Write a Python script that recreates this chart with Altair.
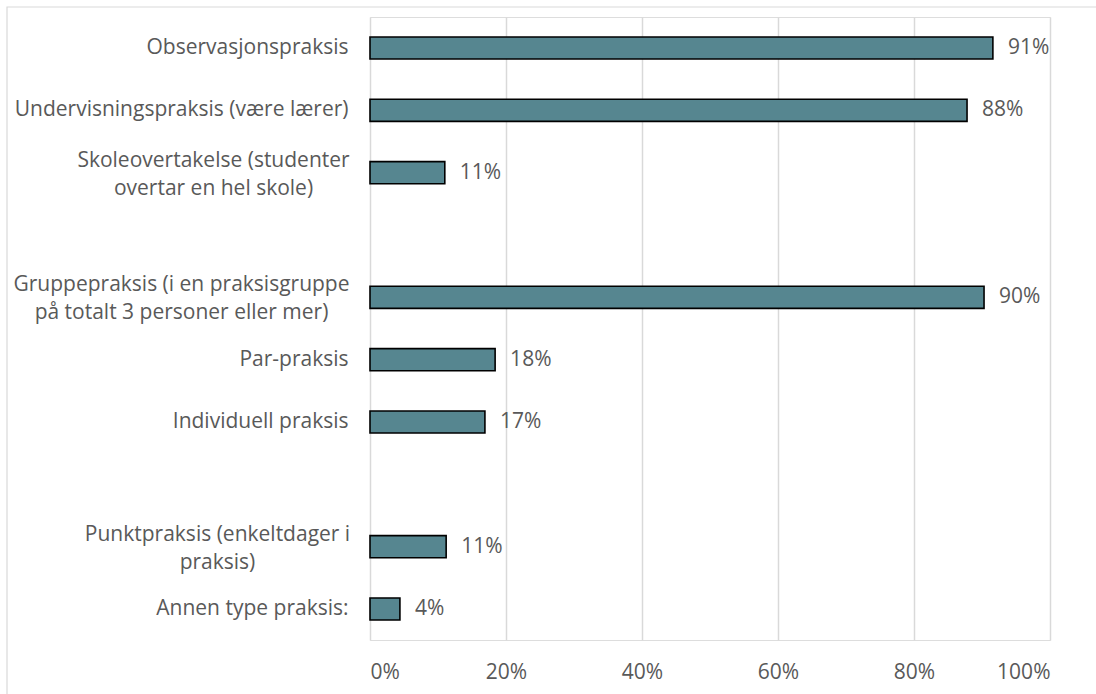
import altair as alt
import pandas as pd

categories = [
    "Observasjonspraksis",
    "Undervisningspraksis (være lærer)",
    "Skoleovertakelse (studenter|overtar en hel skole)",
    " ",
    "Gruppepraksis (i en praksisgruppe|på totalt 3 personer eller mer)",
    "Par-praksis",
    "Individuell praksis",
    "  ",
    "Punktpraksis (enkeltdager i|praksis)",
    "Annen type praksis:",
]
values = [0.916, 0.878, 0.110, None, 0.903, 0.184, 0.169, None, 0.112, 0.044]
labels = ["91%", "88%", "11%", "", "90%", "18%", "17%", "", "11%", "4%"]

df = pd.DataFrame({"cat": categories, "value": values, "label": labels})
bars_df = df.dropna()

FONT = "Open Sans"
TXT = "#595959"
FS = 21

multi = "indexof(datum.value, '|') >= 0"

y_enc = alt.Y(
    "cat:N",
    sort=categories,
    scale=alt.Scale(domain=categories, paddingInner=0.645, paddingOuter=0.32),
    axis=alt.Axis(
        title=None,
        labelExpr="split(datum.label, '|')",
        labelFont=FONT,
        labelFontSize=FS,
        labelColor=TXT,
        labelLineHeight=28,
        labelAlign={"condition": {"test": multi, "value": "center"}, "value": "right"},
        labelPadding={
            "condition": [
                {"test": "indexof(datum.value, 'Skole') === 0", "value": 157},
                {"test": "indexof(datum.value, 'Gruppe') === 0", "value": 189},
                {"test": "indexof(datum.value, 'Punkt') === 0", "value": 153},
            ],
            "value": 22,
        },
        labelOffset={"condition": {"test": multi, "value": -12}, "value": 0},
        ticks=False,
        domain=False,
        labelLimit=500,
    ),
)
x_enc = alt.X(
    "value:Q",
    scale=alt.Scale(domain=[0, 1], nice=False),
    axis=alt.Axis(
        title=None,
        format=".0%",
        values=[0, 0.2, 0.4, 0.6, 0.8, 1.0],
        labelFont=FONT,
        labelFontSize=FS,
        labelColor=TXT,
        labelPadding=21,
        ticks=False,
        domain=False,
        grid=True,
        gridColor="#d9d9d9",
        gridWidth=1.5,
    ),
)

bars = alt.Chart(bars_df).mark_bar(
    color="#568690", stroke="#000000", strokeWidth=1.6
).encode(y=y_enc, x=x_enc)

text = alt.Chart(bars_df).mark_text(
    align="left", baseline="middle", dx=15, font=FONT, fontSize=FS, color=TXT
).encode(y=alt.Y("cat:N", sort=categories), x="value:Q", text="label:N")

border = alt.Chart(pd.DataFrame({"a": [0]})).mark_rect(
    fill=None, stroke="#d9d9d9", strokeWidth=1.2
).encode(x=alt.value(-363), x2=alt.value(760), y=alt.value(-10), y2=alt.value(700))

chart = (
    alt.layer(border, bars, text)
    .properties(
        width=680,
        height=623,
        autosize=alt.AutoSizeParams(type="none"),
        padding={"left": 370, "top": 17, "right": 46, "bottom": 54},
    )
    .configure_view(stroke=None)
    .configure(background="white")
)

chart.save("out.html", embed_options={"renderer": "svg", "actions": False})
